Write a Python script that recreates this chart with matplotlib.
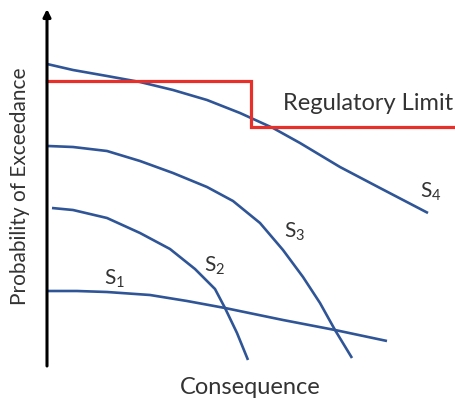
import matplotlib
matplotlib.use("Agg")
import matplotlib.pyplot as plt

plt.rcParams['font.family'] = ['Lato', 'DejaVu Sans']
plt.rcParams['mathtext.fontset'] = 'custom'
plt.rcParams['mathtext.rm'] = 'Lato'
plt.rcParams['mathtext.it'] = 'Lato:italic'

# Curve data (consequence, probability of exceedance) in arbitrary units
s4_x = [0, 26, 60, 93, 126, 160, 193, 226, 253, 293, 333, 381]
s4_y = [301, 295, 289, 283, 275, 265, 252, 237, 222, 198, 177, 152]

s3_x = [1, 26, 60, 93, 126, 160, 186, 213, 236, 256, 273, 288, 305]
s3_y = [219, 218, 214, 204, 192, 178, 164, 142, 115, 88, 62, 35, 7]

s2_x = [5, 26, 60, 93, 123, 148, 168, 178, 190, 201]
s2_y = [157, 155, 147, 132, 116, 96, 76, 57, 32, 5]

s1_x = [0, 30, 60, 103, 140, 178, 236, 288, 340]
s1_y = [74, 74, 73, 70, 64, 57, 45, 35, 24]

limit_x = [0, 204, 204, 408]
limit_y = [284, 284, 238, 238]

labels = ["$\\mathrm{S}_\\mathrm{1}$", "$\\mathrm{S}_\\mathrm{2}$",
          "$\\mathrm{S}_\\mathrm{3}$", "$\\mathrm{S}_\\mathrm{4}$"]

fig = plt.figure(figsize=(4.55, 3.99), dpi=100)
ax = fig.add_axes([0, 0, 1, 1])
ax.set_xlim(-47, 408)
ax.set_ylim(-34, 365)
ax.axis('off')

blue = '#2f5597'
red = '#e8302a'
for xs, ys in [(s4_x, s4_y), (s3_x, s3_y), (s2_x, s2_y), (s1_x, s1_y)]:
    ax.plot(xs, ys, color=blue, lw=1.9, solid_capstyle='butt', solid_joinstyle='round')
ax.plot(limit_x, limit_y, color=red, lw=2.3, solid_joinstyle='miter')

# axes with arrows
ax.annotate('', xy=(410, 0), xytext=(-1, 0),
            arrowprops=dict(arrowstyle='-|>', lw=2.2, color='black', mutation_scale=11,
                            shrinkA=0, shrinkB=0))
ax.annotate('', xy=(0, 356), xytext=(0, -1),
            arrowprops=dict(arrowstyle='-|>', lw=2.2, color='black', mutation_scale=11,
                            shrinkA=0, shrinkB=0))

tc = '#333333'
ax.text(321, 261, "Regulatory Limit", fontsize=17, color=tc, ha='center', va='center')
ax.text(68, 86, labels[0], fontsize=15, color=tc, ha='center', va='center')
ax.text(168, 99, labels[1], fontsize=15, color=tc, ha='center', va='center')
ax.text(248, 133, labels[2], fontsize=15, color=tc, ha='center', va='center')
ax.text(384, 173, labels[3], fontsize=15, color=tc, ha='center', va='center')

ax.text(-27, 179, "Probability of Exceedance", fontsize=15, color=tc, rotation=90,
        ha='center', va='center')
ax.text(203, -22, "Consequence", fontsize=17, color=tc, ha='center', va='center')

fig.savefig("out.png", dpi=100)
